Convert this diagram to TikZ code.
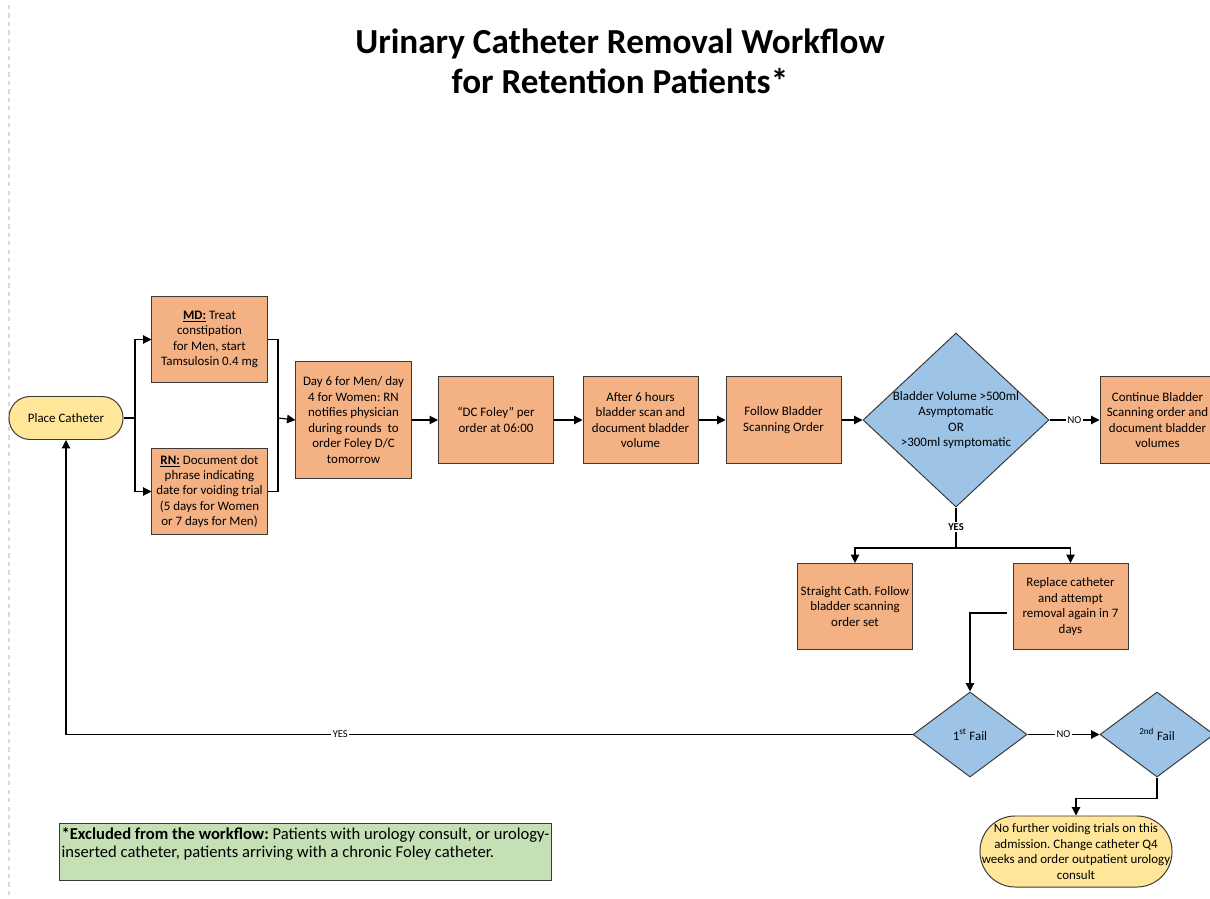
\documentclass[tikz,border=0pt]{standalone}
\usepackage{fontspec}
\setmainfont{Carlito}
\usetikzlibrary{shapes.geometric,arrows.meta}
\definecolor{boxorange}{HTML}{F4B183}
\definecolor{decblue}{HTML}{9DC3E6}
\definecolor{termyellow}{HTML}{FFE699}
\definecolor{notegreen}{HTML}{C5E0B4}
\definecolor{edgegray}{HTML}{3A3A3A}

\begin{document}
\frenchspacing
\begin{tikzpicture}[x=0.025cm,y=-0.025cm,
    every node/.style={font=\fontsize{9.2}{11}\selectfont},
    proc/.style={rectangle, draw=edgegray, line width=0.7pt, fill=boxorange,
        minimum width=2.875cm, minimum height=2.15cm, align=center, inner sep=1pt},
    term/.style={rectangle, draw=edgegray, line width=0.7pt, fill=termyellow,
        align=center, inner sep=0pt},
    decide/.style={diamond, draw=edgegray, line width=0.7pt, fill=decblue, inner sep=0pt},
    flow/.style={draw, line width=0.8pt, -{Triangle[length=6pt,width=6pt]}},
    wire/.style={draw, line width=0.8pt},
    tag/.style={fill=white, inner sep=1pt, font=\fontsize{7.5}{9}\selectfont}
]
\useasboundingbox (0,0) rectangle (1210,899);
% page edge
\draw[gray!30, line width=1pt, dashed] (9,5) -- (9,895);

% title
\node (title) at (620,61) [align=center, font=\bfseries\fontsize{25}{28.5}\selectfont]
    {Urinary Catheter Removal Workflow\\for Retention Patients*};

% first row
\node (place) at (66,418) [term, rounded corners=0.53cm, minimum width=2.85cm, minimum height=1.075cm] {Place Catheter};
\node (md) at (209.5,339.5) [proc] {\underline{\textbf{MD:}} Treat\\constipation\\for Men, start\\Tamsulosin 0.4 mg};
\node (rn) at (209.5,491.5) [proc] {\underline{\textbf{RN:}} Document dot\\phrase indicating\\date for voiding trial\\(5 days for Women\\or 7 days for Men)};
\node (day6) at (353.5,420) [proc, minimum height=2.9cm] {Day 6 for Men/ day\\4 for Women: RN\\notifies physician\\during rounds\ \ to\\order Foley D/C\\tomorrow};
\node (dcfoley) at (496,420) [proc] {“DC Foley” per\\order at 06:00};
\node (scan) at (640.5,420) [proc] {After 6 hours\\bladder scan and\\document bladder\\volume};
\node (follow) at (783.5,420) [proc] {Follow Bladder\\Scanning Order};
\node (volume) at (956,420) [decide, minimum width=4.65cm, minimum height=4.35cm,
    label={[align=center]center:{Bladder Volume >500ml\\Asymptomatic\\OR\\>300ml symptomatic}}] {};
\node (cont) at (1157.5,420) [proc] {Continue Bladder\\Scanning order and\\document bladder\\volumes};

% yes branch
\node (cath) at (855,606.5) [proc] {Straight Cath. Follow\\bladder scanning\\order set};
\node (repl) at (1070.5,606.5) [proc] {Replace catheter\\and attempt\\removal again in 7\\days};
\node (fail1) at (970,734.5) [decide, minimum width=2.85cm, minimum height=2.125cm,
    label={center:{1\textsuperscript{st} Fail}}] {};
\node (fail2) at (1157,734.5) [decide, minimum width=2.85cm, minimum height=2.125cm,
    label={center:{\textsuperscript{2nd} Fail}}] {};
\node (final) at (1076,851.5) [term, rounded corners=0.88cm, minimum width=4.8cm, minimum height=1.775cm]
    {No further voiding trials on this\\admission. Change catheter Q4\\weeks and order outpatient urology\\consult};

% note
\node (note) at (305.5,851.5) [rectangle, draw=edgegray, line width=0.7pt, fill=notegreen,
    minimum width=12.275cm, minimum height=1.425cm, align=left, inner sep=1pt,
    font=\fontsize{11.8}{12.8}\selectfont]
    {\textbf{*Excluded from the workflow:} Patients with urology consult, or urology-\\inserted catheter, patients arriving with a chronic Foley catheter.\\\mbox{}};

% connectors
\coordinate (split) at (135,418);
\coordinate (join) at (278,418);
\path[wire] (place.east) -- (split);
\path[flow] (split) |- (md.west);
\path[flow] (split) |- (rn.west);
\path[wire] (md.east) -| (join);
\path[wire] (rn.east) -| (join);
\path[flow] (join) -- (day6.west);
\path[flow] (day6) -- (dcfoley);
\path[flow] (dcfoley) -- (scan);
\path[flow] (scan) -- (follow);
\path[flow] (follow) -- (volume.west);
\path[flow] (volume.east) -- node[tag] {NO} (cont.west);

\coordinate (fork) at (956,548);
\path[wire] (volume.south) -- node[tag, font=\bfseries\fontsize{7.5}{9}\selectfont, pos=0.48] {YES} (fork);
\path[flow] (fork) -| (cath.north);
\path[flow] (fork) -| (repl.north);

\coordinate (retry) at (1007,613);
\path[flow] (retry) -| (fail1.north);
\path[flow] (fail1.east) -- node[tag] {NO} (fail2.west);
\path[flow] (fail2.south) -- ++(0,21) -| (final.north);
\path[flow] (fail1.west) -| node[tag, pos=0.338] {YES} (place.south);
\end{tikzpicture}
\end{document}
